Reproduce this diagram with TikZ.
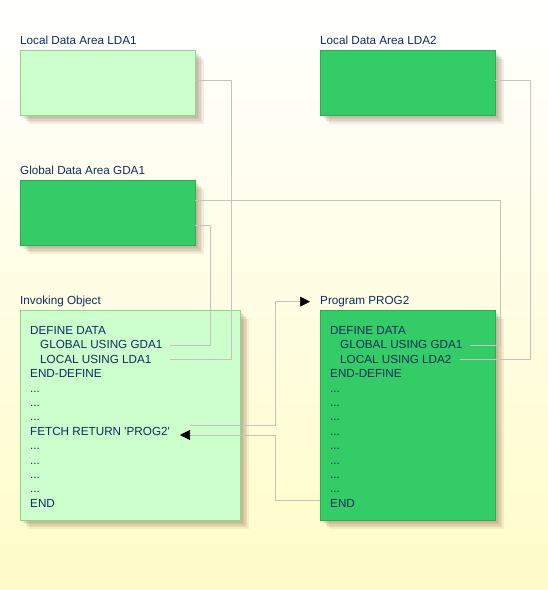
\documentclass[tikz,border=0pt]{standalone}
\usepackage{fontspec}
\setmainfont{Liberation Sans}
\usetikzlibrary{arrows.meta,shadows}
\definecolor{ink}{HTML}{0F2D5E}
\definecolor{palegreen}{HTML}{CCFFCC}
\definecolor{deepgreen}{HTML}{33CC66}
\definecolor{wiregray}{HTML}{C4C4BC}
\definecolor{paper}{HTML}{FFFCC8}
\definecolor{umber}{HTML}{806040}
\newcommand{\codedots}{.{}.{}.}

\begin{document}
\begin{tikzpicture}[x=1pt, y=-1pt,
    every node/.style={font=\fontsize{11.7}{14}\selectfont, text=ink, inner sep=0pt},
    soft/.style={drop shadow={shadow xshift=#1, shadow yshift=-#1, fill=umber, opacity=0.1, rounded corners=3pt}},
    area/.style={minimum width=175pt, minimum height=65pt, anchor=north west,
        soft=9pt, soft=7pt, soft=5.5pt, soft=4pt, soft=2.5pt},
    lightarea/.style={area, draw=green!40!gray!60, fill=palegreen},
    darkarea/.style={area, draw=deepgreen!85!black, fill=deepgreen},
    wire/.style={draw=wiregray, line width=0.7pt},
    tip/.style={-{Triangle[length=10pt, width=10pt, color=black]}}]

    % --- background ---
    \shade[top color=white, middle color=paper!70!white, bottom color=paper] (0,0) rectangle (548,590);
    \useasboundingbox (0,0) rectangle (548,590);

    % --- data areas ---
    \node[anchor=base west] (lblLda1) at (20,44) {Local Data Area LDA1};
    \node[lightarea] (lda1) at (20,50) {};
    \node[anchor=base west] (lblLda2) at (320,44) {Local Data Area LDA2};
    \node[darkarea] (lda2) at (320,50) {};
    \node[anchor=base west] (lblGda1) at (20,174) {Global Data Area GDA1};
    \node[darkarea] (gda1) at (20,180) {};

    % --- the two objects ---
    \node[anchor=base west] (lblInv) at (20,304.5) {Invoking Object};
    \node[lightarea, minimum width=220pt, minimum height=210pt] (inv) at (20,310) {};
    \node[anchor=base west] (lblProg) at (320,304.5) {Program PROG2};
    \node[darkarea, minimum height=210pt] (prog) at (320,310) {};

    % --- wiring (drawn over the boxes) ---
    \coordinate (invCol) at (170,0);
    \coordinate (progColG) at (470,0);
    \coordinate (progColL) at (460,0);
    \coordinate (hub) at (275,0);
    \coordinate (fetchOut) at (190,425);
    \coordinate (fetchIn) at (180,435);
    \coordinate (endOut) at (320,500);

    % source lines
    \foreach \dx/\t [count=\i] in {0/DEFINE DATA, 10/GLOBAL USING GDA1, 10/LOCAL USING LDA1, 0/END-DEFINE,
        0/\codedots, 0/\codedots, 0/\codedots, 0/FETCH RETURN \textquotesingle PROG2\textquotesingle,
        0/\codedots, 0/\codedots, 0/\codedots, 0/\codedots, 0/END}
        \node[anchor=base west] (inv\i) at (30+\dx, 320.1+\i*14.4) {\t};
    \foreach \dx/\t [count=\i] in {0/DEFINE DATA, 10/GLOBAL USING GDA1, 10/LOCAL USING LDA2, 0/END-DEFINE,
        0/\codedots, 0/\codedots, 0/\codedots, 0/\codedots, 0/\codedots, 0/\codedots, 0/\codedots, 0/\codedots, 0/END}
        \node[anchor=base west] (prg\i) at (330+\dx, 320.1+\i*14.4) {\t};

    \draw[wire] ([yshift=2.5pt]lda1.east) -- ++(36,0) |- (inv3 -| invCol);
    \draw[wire] ([yshift=-12.5pt]gda1.east) -- ++(15,0) |- (inv2 -| invCol);
    \draw[wire] ([yshift=12.5pt]gda1.east) -- ++(305,0) |- (prg2 -| progColG);
    \draw[wire] ([yshift=2.5pt]lda2.east) -- ++(35,0) |- (prg3 -| progColL);

    % FETCH RETURN and the way back
    \draw[wire, tip] (fetchOut) -| (hub |- lblProg.west) -- ([xshift=-10pt]lblProg.west);
    \draw[wire, tip] (endOut) -| (hub |- fetchIn) -- (fetchIn);
\end{tikzpicture}
\end{document}
